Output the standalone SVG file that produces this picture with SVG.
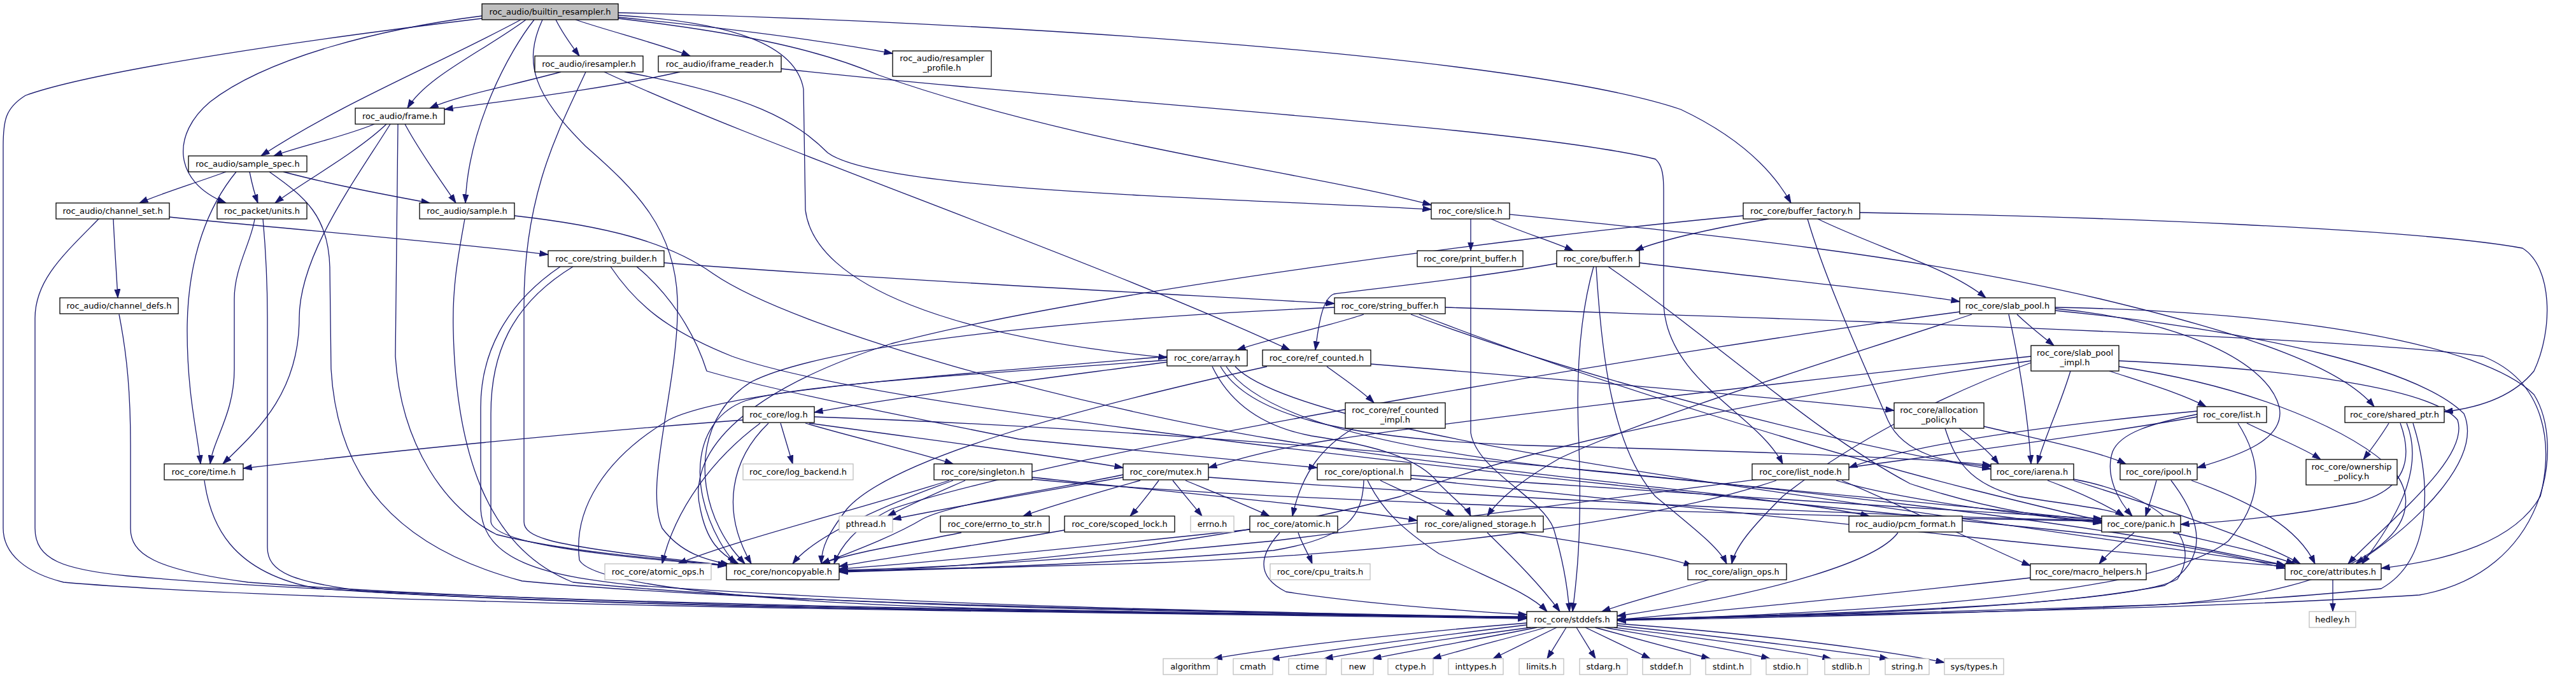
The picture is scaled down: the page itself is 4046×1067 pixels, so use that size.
<svg xmlns="http://www.w3.org/2000/svg" width="4046" height="1067" viewBox="0 0 4046 1067">
<style>
.n rect{fill:#fff;stroke:#000;stroke-width:1.3}
.n.x rect{stroke:#bfbfbf}
.n.h rect{fill:#bfbfbf}
text{font-family:"DejaVu Sans",sans-serif;font-size:13px;text-anchor:middle;fill:#000}
#edges path{fill:none;stroke:#191970;stroke-width:1.3;marker-end:url(#a)}
</style>
<defs>
<marker id="a" viewBox="0 0 14 10" refX="13.5" refY="5" markerWidth="14" markerHeight="10" markerUnits="userSpaceOnUse" orient="auto"><path d="M0,0.5 L13.5,5 L0,9.5 z" fill="#191970" stroke="#191970" stroke-width="1"/></marker>
</defs>
<rect width="4046" height="1067" fill="#fff"/>
<g id="edges">
<path d="M873,31 C885,55 898,72 910,88"/>
<path d="M826,31 C760,80 670,120 640,170"/>
<path d="M818,31 C690,100 540,160 410,245"/>
<path d="M757,25 C600,45 420,90 330,160 C270,210 270,285 355,319"/>
<path d="M839,31 C800,80 735,200 731,319"/>
<path d="M757,29 C500,60 150,110 40,150 C8,170 5,190 5,230 L5,830 C5,870 40,900 100,915 C500,950 1600,962 2398,972"/>
<path d="M904,31 C960,50 1040,70 1084,88"/>
<path d="M971,27 C1150,45 1300,65 1402,84"/>
<path d="M971,29 C1150,50 1280,75 1380,118 C1700,230 2050,270 2248,322"/>
<path d="M971,20 C1600,35 2400,90 2640,172 C2720,210 2780,260 2813,319"/>
<path d="M971,24 C1150,35 1250,70 1262,140 L1265,330 C1280,450 1500,530 1833,562"/>
<path d="M852,31 C820,100 840,150 920,230 C1000,300 1060,360 1064,470 C1068,600 1010,760 1040,830 C1070,870 1110,880 1145,887"/>
<path d="M881,113 C800,135 720,150 675,170"/>
<path d="M949,113 C1200,230 1700,400 2026,550"/>
<path d="M981,113 C1180,150 1250,190 1300,240 C1380,300 1900,310 2248,329"/>
<path d="M920,113 C880,200 823,300 823,480 L823,820 C823,845 870,855 1000,872 C1080,882 1120,885 1141,889"/>
<path d="M1068,113 C950,140 780,160 698,172"/>
<path d="M1227,108 C1700,160 2400,200 2600,250 C2612,260 2613,280 2613,300 L2613,480 C2620,600 2760,650 2800,729"/>
<path d="M588,195 C540,215 470,230 430,245"/>
<path d="M607,195 C560,240 470,290 432,319"/>
<path d="M613,195 C560,280 470,400 470,500 C470,620 400,680 350,729"/>
<path d="M625,195 L621,560 C630,700 700,800 780,840 C900,870 1080,882 1141,888"/>
<path d="M636,195 C660,240 690,280 716,319"/>
<path d="M355,270 C300,290 250,305 219,319"/>
<path d="M371,270 C330,320 294,400 294,520 C294,620 310,680 315,729"/>
<path d="M392,270 C396,290 400,305 405,319"/>
<path d="M423,270 C480,310 516,340 518,420 L520,580 C530,750 620,860 820,913 C1200,950 1900,960 2398,971"/>
<path d="M445,270 C520,290 600,305 675,319"/>
<path d="M155,344 C100,400 55,440 55,500 L55,830 C55,880 100,895 200,905 C700,950 1800,962 2398,970"/>
<path d="M178,344 C180,390 183,430 185,468"/>
<path d="M266,341 C450,360 700,380 861,400"/>
<path d="M187,494 C200,560 205,620 205,700 L205,830 C205,870 240,895 390,915 C900,955 1800,963 2398,971"/>
<path d="M400,344 C395,380 368,420 368,470 L368,580 C368,650 335,690 330,729"/>
<path d="M413,344 C418,400 420,450 420,500 L420,860 C420,900 460,915 580,930 C1100,960 1900,963 2398,970"/>
<path d="M730,344 C720,400 710,450 712,520 C716,700 760,860 900,915 C1300,955 1900,962 2398,970"/>
<path d="M808,339 C950,355 1050,380 1120,430 C1250,520 1700,640 2000,690 C2300,740 2800,780 2936,811"/>
<path d="M321,755 C330,820 360,900 500,925 C1000,960 1900,963 2398,970"/>
<path d="M1043,413 C1400,440 1800,460 2096,477"/>
<path d="M900,419 C800,480 771,560 771,650 L771,820 C775,850 900,870 1141,889"/>
<path d="M880,419 C790,480 755,560 755,640 L755,800 C760,880 850,905 1000,920 C1500,955 2000,962 2398,970"/>
<path d="M1000,419 C1050,460 1090,520 1110,583 C1200,610 1400,650 1600,690 C1800,710 1980,725 2069,735"/>
<path d="M959,419 C1000,480 1050,520 1150,560 C1400,650 2500,760 3200,830 C3400,850 3500,870 3589,893"/>
<path d="M2310,344 L2310,394"/>
<path d="M2342,344 C2390,365 2440,380 2471,394"/>
<path d="M2371,337 C2700,370 3000,400 3300,470 C3550,530 3680,580 3729,639"/>
<path d="M2310,419 L2310,680 C2320,740 2420,780 2440,830 C2455,880 2462,920 2465,961"/>
<path d="M2778,344 C2680,360 2600,380 2568,394"/>
<path d="M2855,344 C2950,390 3060,420 3119,468"/>
<path d="M2921,334 C3300,340 3800,360 3962,390 C4010,420 4010,520 3980,583 C3950,620 3900,640 3839,647"/>
<path d="M2738,339 C2400,370 1700,460 1400,540 C1150,620 1080,720 1100,800 C1110,850 1130,870 1160,886"/>
<path d="M2839,344 C2870,450 2940,600 2965,660 C2990,715 3060,728 3127,733"/>
<path d="M2445,414 C2300,440 2140,455 2095,462 C2075,470 2070,520 2066,550"/>
<path d="M2575,413 C2800,440 3000,460 3078,474"/>
<path d="M2503,419 C2480,500 2475,600 2480,700 C2485,850 2475,920 2470,961"/>
<path d="M2507,419 C2515,550 2530,700 2600,780 C2660,830 2700,860 2712,886"/>
<path d="M2526,419 C2700,540 2850,680 3000,760 C3150,810 3250,815 3301,820"/>
<path d="M2142,494 C2080,515 2000,530 1943,550"/>
<path d="M2096,483 C1700,500 1300,540 1180,600 C1100,650 1090,750 1130,830 C1145,860 1160,875 1170,886"/>
<path d="M2216,494 C2500,600 2900,700 3127,737"/>
<path d="M2229,494 C2500,600 2900,720 3100,770 C3200,795 3260,810 3301,818"/>
<path d="M2270,483 C2800,500 3700,530 3900,560 C4000,600 4010,700 3990,780 C3950,850 3850,880 3740,893"/>
<path d="M2084,576 C2110,595 2140,615 2158,633"/>
<path d="M2153,572 C2500,600 2800,625 2975,645"/>
<path d="M1990,576 C1700,640 1400,720 1330,800 C1300,840 1290,860 1290,886"/>
<path d="M2126,673 C2080,700 2045,740 2030,811"/>
<path d="M3077,673 C3100,690 3125,710 3139,729"/>
<path d="M3116,670 C3200,690 3300,710 3339,729"/>
<path d="M3055,673 C3070,720 3090,760 3170,780 C3260,795 3320,800 3336,811"/>
<path d="M3168,494 C3190,515 3210,530 3226,543"/>
<path d="M3155,494 C3170,560 3185,650 3190,729"/>
<path d="M3228,485 C3400,500 3560,560 3580,640 C3590,690 3520,715 3451,735"/>
<path d="M3228,488 C3550,520 3800,580 3870,650 C3900,720 3800,820 3700,886"/>
<path d="M3228,483 C3600,490 3900,540 3980,620 C4030,700 4000,900 3800,935 C3400,960 2900,965 2540,974"/>
<path d="M3097,494 C2900,560 2600,650 2450,720 C2380,760 2350,790 2336,811"/>
<path d="M3078,490 C2700,540 1700,700 1400,800 C1340,830 1320,860 1310,886"/>
<path d="M3313,583 C3380,605 3430,620 3465,639"/>
<path d="M3252,583 C3235,640 3210,690 3200,729"/>
<path d="M3190,560 C2800,600 2300,660 2100,690 C2000,705 1950,720 1898,735"/>
<path d="M3190,567 C2800,620 2400,700 2200,780 C1900,860 1500,895 1318,898"/>
<path d="M3190,570 C3050,620 2900,700 2800,780 C2750,830 2725,860 2720,886"/>
<path d="M3328,567 C3600,580 3820,610 3860,660 C3880,720 3750,820 3688,886"/>
<path d="M3328,576 C3550,610 3700,680 3760,740 C3830,830 3700,930 3400,950 C3000,965 2700,968 2540,974"/>
<path d="M3451,646 C3200,670 3000,700 2904,735"/>
<path d="M3529,665 C3580,690 3620,705 3645,722"/>
<path d="M3451,651 C3380,665 3330,680 3318,710 C3305,750 3330,790 3349,811"/>
<path d="M3451,655 C3200,700 2400,800 2000,850 C1700,880 1450,893 1318,896"/>
<path d="M3515,665 C3550,720 3560,780 3500,850 C3400,930 3000,960 2540,975"/>
<path d="M2790,755 C2600,820 2200,870 1800,885 C1500,893 1380,896 1318,899"/>
<path d="M2884,755 C3000,790 3200,810 3301,822"/>
<path d="M2893,755 C3000,800 3120,860 3189,889"/>
<path d="M3216,755 C3270,775 3310,795 3336,811"/>
<path d="M3257,753 C3400,780 3460,850 3420,910 C3350,950 2900,965 2540,973"/>
<path d="M3257,755 C3400,800 3550,850 3613,886"/>
<path d="M3387,755 C3382,775 3375,795 3370,811"/>
<path d="M3410,755 C3460,820 3470,880 3400,920 C3200,960 2800,968 2540,974"/>
<path d="M3442,755 C3540,790 3610,830 3636,886"/>
<path d="M3752,665 C3740,685 3725,705 3712,722"/>
<path d="M3770,665 C3790,720 3780,770 3700,790 C3600,810 3500,820 3425,824"/>
<path d="M3780,665 C3810,740 3760,820 3710,886"/>
<path d="M3790,665 C3820,760 3820,880 3740,925 C3400,960 2900,968 2540,975"/>
<path d="M3352,837 C3330,855 3310,870 3297,886"/>
<path d="M3413,837 C3490,855 3560,870 3604,886"/>
<path d="M3189,908 C2950,935 2700,960 2540,974"/>
<path d="M3664,911 L3664,961"/>
<path d="M2684,911 C2620,930 2560,945 2516,961"/>
<path d="M2387,837 C2500,855 2600,870 2658,889"/>
<path d="M2336,837 C2380,880 2420,920 2450,961"/>
<path d="M2168,755 C2210,775 2255,795 2284,811"/>
<path d="M2142,755 C2140,810 2120,845 2000,865 C1700,890 1450,895 1318,897"/>
<path d="M2148,755 C2170,800 2200,830 2260,870 C2340,910 2400,930 2430,961"/>
<path d="M2216,747 C2600,770 3000,800 3301,815"/>
<path d="M2216,752 C2700,800 3200,860 3589,890"/>
<path d="M1516,755 C1470,775 1425,795 1394,811"/>
<path d="M1491,755 C1350,800 1150,850 1065,886"/>
<path d="M1497,755 C1400,790 1280,840 1245,886"/>
<path d="M1621,750 C1800,770 2050,790 2226,818"/>
<path d="M1621,753 C2000,790 2800,810 3301,819"/>
<path d="M1764,750 C1620,775 1480,800 1402,816"/>
<path d="M1791,755 C1720,775 1650,795 1607,811"/>
<path d="M1820,755 C1805,775 1790,795 1775,811"/>
<path d="M1842,755 C1858,775 1875,795 1888,811"/>
<path d="M1862,755 C1910,775 1960,795 1994,811"/>
<path d="M1764,746 C1650,770 1500,790 1450,815 C1400,845 1330,870 1290,886"/>
<path d="M1898,750 C2300,780 2900,810 3301,818"/>
<path d="M1510,837 C1420,855 1330,870 1290,886"/>
<path d="M1672,833 C1550,855 1400,875 1318,890"/>
<path d="M1963,832 C1700,860 1450,885 1318,894"/>
<path d="M2039,837 C2045,855 2055,870 2061,886"/>
<path d="M2010,837 C1980,870 1970,905 2020,930 C2150,950 2300,960 2398,966"/>
<path d="M1167,660 C900,680 600,710 382,736"/>
<path d="M1226,665 L1245,729"/>
<path d="M1265,665 C1350,690 1440,710 1497,729"/>
<path d="M1271,665 C1450,690 1650,715 1764,735"/>
<path d="M1207,665 C1150,720 1130,800 1180,886"/>
<path d="M1194,665 C1120,720 1060,800 1040,886"/>
<path d="M1279,655 C2000,680 3000,780 3400,850 C3500,870 3550,880 3589,888"/>
<path d="M1833,569 C1600,600 1400,625 1279,648"/>
<path d="M1833,560 C1500,590 1150,610 1050,660 C950,720 900,800 910,880 C930,920 1200,945 1500,955 C1900,965 2200,968 2398,969"/>
<path d="M1833,566 C1500,590 1250,605 1170,630 C1090,660 1080,760 1130,850 C1140,868 1150,880 1155,886"/>
<path d="M1904,576 C1930,630 1980,670 2060,685 C2160,700 2230,720 2260,760 C2290,790 2305,800 2310,811"/>
<path d="M1917,576 C1960,650 2100,690 2400,700 C2800,710 3050,722 3127,731"/>
<path d="M1926,576 C1980,660 2200,710 2500,740 C2900,780 3200,805 3301,819"/>
<path d="M1940,576 C2000,640 2300,700 2700,760 C3100,820 3450,870 3589,888"/>
<path d="M2981,837 C2950,880 2800,930 2540,968"/>
<path d="M2398,979 C2200,995 2000,1018 1906,1035"/>
<path d="M2398,982 C2250,1000 2080,1022 1996,1036"/>
<path d="M2404,986 C2300,1000 2160,1020 2080,1035"/>
<path d="M2414,986 C2330,1003 2220,1022 2156,1035"/>
<path d="M2428,986 C2380,1000 2300,1020 2250,1035"/>
<path d="M2445,986 L2345,1035"/>
<path d="M2460,986 L2430,1035"/>
<path d="M2476,986 L2506,1035"/>
<path d="M2490,986 L2592,1035"/>
<path d="M2505,986 L2686,1035"/>
<path d="M2520,986 C2600,1000 2720,1020 2780,1035"/>
<path d="M2535,986 C2650,1000 2800,1020 2876,1035"/>
<path d="M2540,983 C2700,1000 2880,1022 2966,1035"/>
<path d="M2540,980 C2750,995 2950,1020 3054,1041"/>
</g>
<g id="n_builtin_resampler" class="n h"><rect x="757" y="6" width="214" height="25"/><text x="864" y="23">roc_audio/builtin_resampler.h</text></g>
<g id="n_iresampler" class="n"><rect x="840" y="88" width="170" height="25"/><text x="925" y="105">roc_audio/iresampler.h</text></g>
<g id="n_iframe_reader" class="n"><rect x="1034" y="88" width="193" height="25"/><text x="1130.5" y="105">roc_audio/iframe_reader.h</text></g>
<g id="n_resampler_profile" class="n"><rect x="1402" y="80" width="155" height="40"/><text x="1479.5" y="96">roc_audio/resampler</text><text x="1479.5" y="111">_profile.h</text></g>
<g id="n_frame" class="n"><rect x="558" y="170" width="140" height="25"/><text x="628" y="187">roc_audio/frame.h</text></g>
<g id="n_sample_spec" class="n"><rect x="296" y="245" width="186" height="25"/><text x="389" y="262">roc_audio/sample_spec.h</text></g>
<g id="n_channel_set" class="n"><rect x="88" y="319" width="178" height="25"/><text x="177" y="336">roc_audio/channel_set.h</text></g>
<g id="n_packet_units" class="n"><rect x="341" y="319" width="141" height="25"/><text x="411.5" y="336">roc_packet/units.h</text></g>
<g id="n_sample" class="n"><rect x="659" y="319" width="149" height="25"/><text x="733.5" y="336">roc_audio/sample.h</text></g>
<g id="n_slice" class="n"><rect x="2248" y="319" width="123" height="25"/><text x="2309.5" y="336">roc_core/slice.h</text></g>
<g id="n_buffer_factory" class="n"><rect x="2738" y="319" width="183" height="25"/><text x="2829.5" y="336">roc_core/buffer_factory.h</text></g>
<g id="n_string_builder" class="n"><rect x="861" y="394" width="182" height="25"/><text x="952" y="411">roc_core/string_builder.h</text></g>
<g id="n_print_buffer" class="n"><rect x="2226" y="394" width="166" height="25"/><text x="2309" y="411">roc_core/print_buffer.h</text></g>
<g id="n_buffer" class="n"><rect x="2445" y="394" width="130" height="25"/><text x="2510" y="411">roc_core/buffer.h</text></g>
<g id="n_channel_defs" class="n"><rect x="94" y="468" width="186" height="25"/><text x="187" y="485">roc_audio/channel_defs.h</text></g>
<g id="n_string_buffer" class="n"><rect x="2096" y="468" width="174" height="25"/><text x="2183" y="485">roc_core/string_buffer.h</text></g>
<g id="n_slab_pool" class="n"><rect x="3078" y="468" width="150" height="25"/><text x="3153" y="485">roc_core/slab_pool.h</text></g>
<g id="n_array" class="n"><rect x="1833" y="550" width="126" height="25"/><text x="1896" y="567">roc_core/array.h</text></g>
<g id="n_ref_counted" class="n"><rect x="1983" y="550" width="170" height="25"/><text x="2068" y="567">roc_core/ref_counted.h</text></g>
<g id="n_slab_pool_impl" class="n"><rect x="3190" y="543" width="138" height="40"/><text x="3259" y="559">roc_core/slab_pool</text><text x="3259" y="574">_impl.h</text></g>
<g id="n_log" class="n"><rect x="1167" y="639" width="112" height="25"/><text x="1223" y="656">roc_core/log.h</text></g>
<g id="n_ref_counted_impl" class="n"><rect x="2113" y="633" width="157" height="40"/><text x="2191.5" y="649">roc_core/ref_counted</text><text x="2191.5" y="664">_impl.h</text></g>
<g id="n_allocation_policy" class="n"><rect x="2975" y="633" width="141" height="40"/><text x="3045.5" y="649">roc_core/allocation</text><text x="3045.5" y="664">_policy.h</text></g>
<g id="n_list" class="n"><rect x="3451" y="639" width="109" height="25"/><text x="3505.5" y="656">roc_core/list.h</text></g>
<g id="n_shared_ptr" class="n"><rect x="3683" y="639" width="156" height="25"/><text x="3761" y="656">roc_core/shared_ptr.h</text></g>
<g id="n_time" class="n"><rect x="258" y="729" width="124" height="25"/><text x="320" y="746">roc_core/time.h</text></g>
<g id="n_log_backend" class="n x"><rect x="1167" y="729" width="173" height="25"/><text x="1253.5" y="746">roc_core/log_backend.h</text></g>
<g id="n_singleton" class="n"><rect x="1467" y="729" width="154" height="25"/><text x="1544" y="746">roc_core/singleton.h</text></g>
<g id="n_mutex" class="n"><rect x="1764" y="729" width="134" height="25"/><text x="1831" y="746">roc_core/mutex.h</text></g>
<g id="n_optional" class="n"><rect x="2069" y="729" width="147" height="25"/><text x="2142.5" y="746">roc_core/optional.h</text></g>
<g id="n_list_node" class="n"><rect x="2752" y="729" width="152" height="25"/><text x="2828" y="746">roc_core/list_node.h</text></g>
<g id="n_iarena" class="n"><rect x="3127" y="729" width="130" height="25"/><text x="3192" y="746">roc_core/iarena.h</text></g>
<g id="n_ipool" class="n"><rect x="3330" y="729" width="121" height="25"/><text x="3390.5" y="746">roc_core/ipool.h</text></g>
<g id="n_ownership_policy" class="n"><rect x="3622" y="722" width="143" height="40"/><text x="3693.5" y="738">roc_core/ownership</text><text x="3693.5" y="753">_policy.h</text></g>
<g id="n_pthread" class="n x"><rect x="1318" y="811" width="84" height="25"/><text x="1360" y="828">pthread.h</text></g>
<g id="n_errno_to_str" class="n"><rect x="1477" y="811" width="171" height="25"/><text x="1562.5" y="828">roc_core/errno_to_str.h</text></g>
<g id="n_scoped_lock" class="n"><rect x="1672" y="811" width="173" height="25"/><text x="1758.5" y="828">roc_core/scoped_lock.h</text></g>
<g id="n_errno" class="n x"><rect x="1870" y="811" width="68" height="25"/><text x="1904" y="828">errno.h</text></g>
<g id="n_atomic" class="n"><rect x="1963" y="811" width="138" height="25"/><text x="2032" y="828">roc_core/atomic.h</text></g>
<g id="n_aligned_storage" class="n"><rect x="2226" y="811" width="198" height="25"/><text x="2325" y="828">roc_core/aligned_storage.h</text></g>
<g id="n_pcm_format" class="n"><rect x="2904" y="811" width="178" height="25"/><text x="2993" y="828">roc_audio/pcm_format.h</text></g>
<g id="n_panic" class="n"><rect x="3301" y="811" width="124" height="25"/><text x="3363" y="828">roc_core/panic.h</text></g>
<g id="n_atomic_ops" class="n x"><rect x="950" y="886" width="167" height="25"/><text x="1033.5" y="903">roc_core/atomic_ops.h</text></g>
<g id="n_noncopyable" class="n"><rect x="1141" y="886" width="177" height="25"/><text x="1229.5" y="903">roc_core/noncopyable.h</text></g>
<g id="n_cpu_traits" class="n x"><rect x="1995" y="886" width="157" height="25"/><text x="2073.5" y="903">roc_core/cpu_traits.h</text></g>
<g id="n_align_ops" class="n"><rect x="2651" y="886" width="155" height="25"/><text x="2728.5" y="903">roc_core/align_ops.h</text></g>
<g id="n_macro_helpers" class="n"><rect x="3189" y="886" width="182" height="25"/><text x="3280" y="903">roc_core/macro_helpers.h</text></g>
<g id="n_attributes" class="n"><rect x="3589" y="886" width="151" height="25"/><text x="3664.5" y="903">roc_core/attributes.h</text></g>
<g id="n_stddefs" class="n"><rect x="2398" y="961" width="142" height="25"/><text x="2469" y="978">roc_core/stddefs.h</text></g>
<g id="n_hedley" class="n x"><rect x="3627" y="961" width="73" height="25"/><text x="3663.5" y="978">hedley.h</text></g>
<g id="n_algorithm" class="n x"><rect x="1827" y="1035" width="85" height="25"/><text x="1869.5" y="1052">algorithm</text></g>
<g id="n_cmath" class="n x"><rect x="1937" y="1035" width="62" height="25"/><text x="1968" y="1052">cmath</text></g>
<g id="n_ctime" class="n x"><rect x="2024" y="1035" width="59" height="25"/><text x="2053.5" y="1052">ctime</text></g>
<g id="n_new" class="n x"><rect x="2107" y="1035" width="50" height="25"/><text x="2132" y="1052">new</text></g>
<g id="n_ctype" class="n x"><rect x="2180" y="1035" width="71" height="25"/><text x="2215.5" y="1052">ctype.h</text></g>
<g id="n_inttypes" class="n x"><rect x="2275" y="1035" width="86" height="25"/><text x="2318" y="1052">inttypes.h</text></g>
<g id="n_limits" class="n x"><rect x="2386" y="1035" width="70" height="25"/><text x="2421" y="1052">limits.h</text></g>
<g id="n_stdarg" class="n x"><rect x="2481" y="1035" width="75" height="25"/><text x="2518.5" y="1052">stdarg.h</text></g>
<g id="n_stddef" class="n x"><rect x="2580" y="1035" width="75" height="25"/><text x="2617.5" y="1052">stddef.h</text></g>
<g id="n_stdint" class="n x"><rect x="2679" y="1035" width="71" height="25"/><text x="2714.5" y="1052">stdint.h</text></g>
<g id="n_stdio" class="n x"><rect x="2774" y="1035" width="65" height="25"/><text x="2806.5" y="1052">stdio.h</text></g>
<g id="n_stdlib" class="n x"><rect x="2866" y="1035" width="70" height="25"/><text x="2901" y="1052">stdlib.h</text></g>
<g id="n_string" class="n x"><rect x="2961" y="1035" width="69" height="25"/><text x="2995.5" y="1052">string.h</text></g>
<g id="n_sys_types" class="n x"><rect x="3054" y="1035" width="93" height="25"/><text x="3100.5" y="1052">sys/types.h</text></g>
</svg>
